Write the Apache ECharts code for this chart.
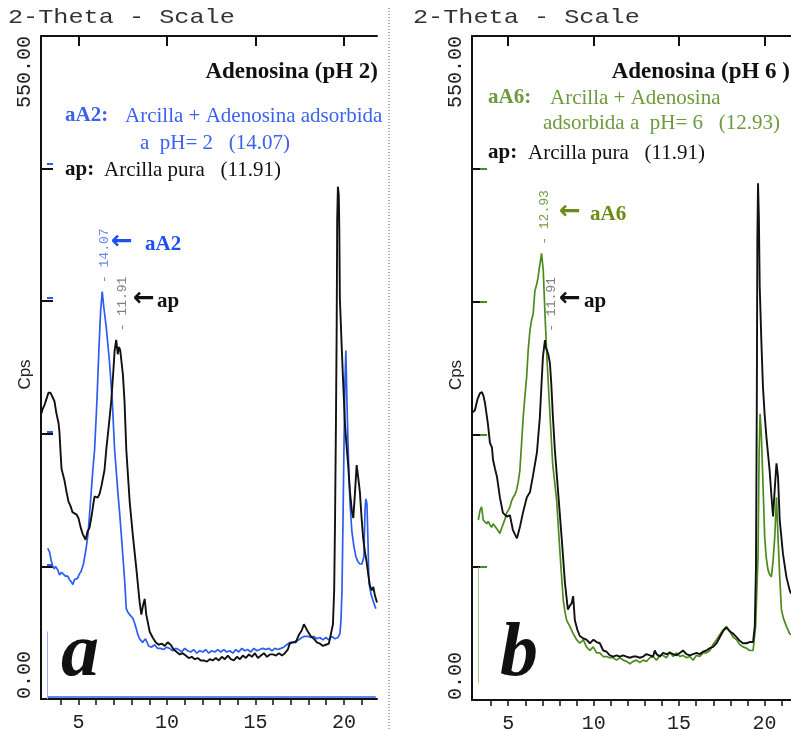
<!DOCTYPE html>
<html>
<head>
<meta charset="utf-8">
<script src="https://cdn.jsdelivr.net/npm/echarts@6/dist/echarts.min.js"></script>
<style>
  html, body { margin: 0; padding: 0; background: #fff; }
  #chart { width: 791px; height: 729px; }
</style>
</head>
<body>
<div id="chart"></div>
<script>
// ---- axis ticks ----
const twoThetaLabels = [5, 10, 15, 20];
const twoThetaTicks = [4, 5, 6, 7, 8, 9, 10, 11, 12, 13, 14, 15, 16, 17, 18, 19, 20, 21];
const cpsTicks = [110, 220, 330, 440];
const cpsEnds = [0, 550];

// ---- panel a: Adenosina pH 2 ----  [2θ, Cps]
const apA = [[2.91,237],[2.96,240],[3.08,244],[3.19,249],[3.30,254],[3.36,255],[3.42,254],[3.53,253],[3.64,247],[3.75,237],[3.87,229],[3.92,222],[3.98,206],[4.04,191],[4.09,188],[4.21,181],[4.32,172],[4.43,164],[4.55,160],[4.66,155],[4.77,156],[4.89,153],[5.00,150],[5.11,143],[5.23,137],[5.34,134],[5.40,132],[5.51,139],[5.62,142],[5.74,152],[5.85,163],[5.91,168],[6.08,167],[6.19,170],[6.30,177],[6.47,190],[6.57,207],[6.70,225],[6.85,247],[6.96,270],[7.04,289],[7.13,298],[7.22,286],[7.29,292],[7.36,289],[7.51,269],[7.60,247],[7.70,207],[7.89,164],[8.07,136],[8.27,108],[8.45,81],[8.55,70],[8.65,78],[8.74,83],[8.83,70],[9.02,56],[9.19,51],[9.36,47],[9.53,45],[9.70,46],[9.87,44],[10.04,47],[10.21,45],[10.38,41],[10.55,39],[10.72,37],[10.89,38],[11.06,36],[11.23,34],[11.40,35],[11.57,33],[11.74,34],[11.91,32],[12.08,32],[12.25,31],[12.42,33],[12.59,32],[12.76,34],[12.93,32],[13.10,35],[13.27,33],[13.44,36],[13.61,33],[13.78,32],[13.95,35],[14.12,33],[14.29,36],[14.46,34],[14.63,37],[14.80,35],[14.97,38],[15.14,34],[15.31,36],[15.48,38],[15.65,35],[15.82,37],[15.99,37],[16.16,36],[16.33,38],[16.50,36],[16.66,38],[16.83,41],[16.94,46],[17.11,47],[17.28,47],[17.45,53],[17.62,57],[17.74,62],[17.85,59],[17.96,56],[18.13,52],[18.30,50],[18.47,47],[18.64,46],[18.81,44],[18.98,45],[19.15,46],[19.26,47],[19.38,62],[19.45,90],[19.50,150],[19.55,230],[19.59,305],[19.62,397],[19.66,425],[19.71,418],[19.74,390],[19.77,333],[19.87,294],[19.96,262],[20.06,228],[20.15,210],[20.24,194],[20.34,172],[20.45,156],[20.53,150],[20.62,170],[20.72,194],[20.79,186],[20.90,172],[21.00,150],[21.09,133],[21.19,122],[21.28,114],[21.38,103],[21.47,94],[21.58,90],[21.66,93],[21.75,86],[21.87,80]];

const aA2 = [[3.26,125],[3.36,122],[3.47,114],[3.55,110],[3.63,108],[3.70,110],[3.83,107],[3.92,103],[4.04,105],[4.11,106],[4.26,102],[4.39,102],[4.49,99],[4.60,97],[4.68,95],[4.77,99],[4.87,100],[4.94,100],[5.06,104],[5.15,106],[5.28,112],[5.34,117],[5.44,126],[5.53,136],[5.62,152],[5.72,172],[5.81,190],[5.91,207],[6.04,247],[6.15,289],[6.25,322],[6.34,338],[6.43,325],[6.57,308],[6.75,280],[6.91,247],[7.04,207],[7.13,190],[7.22,172],[7.32,155],[7.42,136],[7.51,118],[7.60,100],[7.70,75],[7.79,72],[7.89,70],[8.07,67],[8.17,63],[8.27,58],[8.34,54],[8.45,50],[8.62,47],[8.79,50],[8.96,44],[9.13,43],[9.30,45],[9.47,42],[9.64,42],[9.81,41],[9.98,43],[10.15,42],[10.32,40],[10.49,42],[10.66,41],[10.83,39],[11.00,42],[11.17,40],[11.34,39],[11.51,41],[11.68,38],[11.85,40],[12.02,39],[12.19,41],[12.36,38],[12.53,40],[12.70,39],[12.87,41],[13.04,39],[13.21,41],[13.38,39],[13.55,40],[13.72,38],[13.89,41],[14.06,39],[14.23,42],[14.40,40],[14.57,41],[14.74,39],[14.91,42],[15.08,40],[15.25,41],[15.42,42],[15.59,41],[15.76,42],[15.93,40],[16.10,42],[16.27,41],[16.44,42],[16.60,43],[16.77,45],[16.94,47],[17.11,47],[17.28,48],[17.45,49],[17.62,51],[17.79,52],[17.96,52],[18.13,51],[18.30,52],[18.47,50],[18.64,51],[18.81,49],[18.98,51],[19.15,49],[19.32,52],[19.49,50],[19.66,51],[19.77,54],[19.83,64],[19.89,89],[19.94,139],[20.00,206],[20.06,264],[20.11,289],[20.17,247],[20.23,214],[20.28,189],[20.34,164],[20.45,139],[20.57,126],[20.68,118],[20.79,114],[20.90,112],[21.02,112],[21.13,118],[21.19,156],[21.24,166],[21.30,162],[21.36,131],[21.41,97],[21.53,87],[21.64,82],[21.75,77],[21.81,75]];

// ---- panel b: Adenosina pH 6 ----
const apB = [[2.88,238],[3.05,240],[3.20,249],[3.34,254],[3.46,255],[3.55,252],[3.64,246],[3.81,229],[3.93,213],[4.05,209],[4.11,199],[4.22,192],[4.34,185],[4.51,168],[4.69,155],[4.80,154],[4.92,152],[5.10,153],[5.27,141],[5.40,137],[5.51,134],[5.68,143],[5.86,155],[6.09,168],[6.27,172],[6.44,185],[6.68,205],[6.85,234],[6.95,262],[7.03,284],[7.15,298],[7.20,292],[7.26,290],[7.35,286],[7.44,279],[7.52,262],[7.61,236],[7.73,207],[7.91,174],[8.14,132],[8.32,97],[8.49,75],[8.60,78],[8.71,80],[8.80,86],[8.90,66],[9.05,58],[9.19,53],[9.40,51],[9.58,50],[9.78,47],[9.99,50],[10.17,48],[10.36,47],[10.56,41],[10.75,40],[10.95,37],[11.14,36],[11.34,37],[11.53,36],[11.73,37],[11.92,36],[12.12,35],[12.31,36],[12.51,36],[12.70,35],[12.90,36],[13.09,38],[13.29,37],[13.48,36],[13.58,41],[13.68,38],[13.87,36],[14.06,39],[14.26,38],[14.46,39],[14.65,38],[14.85,37],[15.04,39],[15.23,41],[15.43,38],[15.63,37],[15.82,38],[16.02,39],[16.21,38],[16.40,40],[16.60,41],[16.80,43],[16.99,44],[17.19,47],[17.38,52],[17.57,57],[17.77,60],[17.96,57],[18.16,55],[18.36,52],[18.55,49],[18.74,47],[18.94,47],[19.13,48],[19.33,48],[19.43,61],[19.50,110],[19.55,250],[19.58,380],[19.62,428],[19.67,400],[19.72,342],[19.82,295],[19.91,259],[20.01,236],[20.11,218],[20.30,190],[20.40,170],[20.50,152],[20.60,175],[20.70,196],[20.79,185],[20.89,149],[21.08,121],[21.28,102],[21.47,91],[21.55,88]];

const aA6 = [[3.25,149],[3.35,157],[3.44,160],[3.54,149],[3.64,150],[3.74,146],[3.83,148],[3.93,145],[4.03,143],[4.12,146],[4.22,144],[4.32,142],[4.42,140],[4.51,138],[4.61,142],[4.71,146],[4.81,150],[4.91,155],[5.00,157],[5.10,160],[5.20,165],[5.29,168],[5.39,170],[5.49,174],[5.58,180],[5.68,190],[5.78,212],[5.88,235],[5.98,252],[6.08,268],[6.17,290],[6.27,306],[6.37,315],[6.46,320],[6.56,339],[6.66,344],[6.75,350],[6.82,358],[6.89,364],[6.95,370],[7.00,363],[7.05,356],[7.10,338],[7.15,320],[7.28,279],[7.44,237],[7.60,196],[7.72,180],[7.83,166],[8.02,124],[8.12,103],[8.22,83],[8.32,73],[8.42,66],[8.61,61],[8.80,55],[9.00,50],[9.19,47],[9.39,50],[9.58,44],[9.78,41],[9.97,44],[10.17,39],[10.36,39],[10.56,36],[10.75,36],[10.95,35],[11.14,35],[11.34,33],[11.53,35],[11.73,33],[11.92,32],[12.12,30],[12.31,32],[12.51,33],[12.70,31],[12.90,33],[13.09,32],[13.29,35],[13.48,36],[13.68,33],[13.87,37],[14.06,37],[14.26,35],[14.46,40],[14.65,36],[14.85,39],[15.04,36],[15.23,37],[15.43,35],[15.63,36],[15.82,33],[16.02,37],[16.21,36],[16.40,39],[16.60,39],[16.80,41],[16.99,46],[17.19,50],[17.38,54],[17.57,58],[17.77,61],[17.96,57],[18.16,52],[18.36,50],[18.55,46],[18.74,44],[18.94,43],[19.13,41],[19.33,41],[19.48,61],[19.62,119],[19.68,200],[19.74,237],[19.78,228],[19.82,218],[19.92,175],[20.01,135],[20.10,118],[20.20,108],[20.30,104],[20.40,102],[20.50,115],[20.60,135],[20.70,168],[20.79,135],[20.89,102],[20.99,75],[21.10,68],[21.28,61],[21.47,55],[21.55,54]];

// d-spacing labels (Å) placed on the first basal peak: [2θ, Cps, label]
const peakA_aA2 = [6.34, 338, '14.07'];
const peakA_ap  = [7.13, 298, '11.91'];
const peakB_aA6 = [6.95, 370, '12.93'];
const peakB_ap  = [7.15, 298, '11.91'];

// ---- styling ----
const MONO = '"Liberation Mono", "DejaVu Sans Mono", monospace';
const SERIF = '"Liberation Serif", "DejaVu Serif", serif';
const SANS = '"Liberation Sans", "DejaVu Sans", sans-serif';
const ARROW = '"DejaVu Sans", sans-serif';
const INK = '#111111';
const BLUE = '#2d5cf0';
const BLUE_TXT = '#3b62ee';
const GREEN = '#4d8a1c';
const GREEN_TXT = '#6c9a3c';
const OLIVE = '#6b8c12';

const chart = echarts.init(document.getElementById('chart'), null, { renderer: 'canvas' });

function bottomAxis(gridIndex, min, max) {
  return {
    type: 'value', gridIndex, position: 'bottom', min, max,
    axisLine: { show: true, onZero: false, lineStyle: { color: INK, width: 2 } },
    axisTick: { show: true, customValues: twoThetaTicks, length: 6, lineStyle: { color: INK, width: 1.5 } },
    axisLabel: { show: true, customValues: twoThetaLabels, margin: 14, fontFamily: MONO, fontSize: 20, color: '#222' },
    splitLine: { show: false }
  };
}
function topAxis(gridIndex, min, max) {
  return {
    type: 'value', gridIndex, position: 'top', min, max,
    axisLine: { show: true, onZero: false, lineStyle: { color: INK, width: 2 } },
    axisTick: { show: true, inside: true, customValues: twoThetaLabels, length: 10, lineStyle: { color: INK, width: 2 } },
    axisLabel: { show: false },
    splitLine: { show: false }
  };
}
function cpsAxis(gridIndex, withName) {
  return {
    type: 'value', gridIndex, position: 'left', min: cpsEnds[0], max: cpsEnds[1],
    axisLine: { show: true, onZero: false, lineStyle: { color: INK, width: 2 } },
    axisTick: { show: true, inside: true, customValues: cpsTicks, length: withName ? 12 : 8, lineStyle: { color: INK, width: 2 } },
    axisLabel: {
      show: true, customValues: [cpsEnds[1]], rotate: 90, align: 'right', verticalAlign: 'middle',
      margin: 16, fontFamily: MONO, fontSize: 20, color: '#222',
      formatter: v => v.toFixed(2)
    },
    splitLine: { show: false },
    name: 'Cps', nameLocation: 'middle', nameGap: 7, nameRotate: 90, nameMoveOverlap: false,
    nameTextStyle: { fontFamily: SANS, fontSize: 17, color: '#222', padding: [0, 14, 0, 0] }
  };
}
function zeroLabelAxis(gridIndex) {
  return {
    type: 'value', gridIndex, position: 'left', min: cpsEnds[0], max: cpsEnds[1],
    axisLine: { show: false }, axisTick: { show: false }, splitLine: { show: false },
    axisLabel: {
      show: true, customValues: [cpsEnds[0]], rotate: 90, align: 'left', verticalAlign: 'middle',
      margin: 16, fontFamily: MONO, fontSize: 20, color: '#222',
      formatter: v => v.toFixed(2)
    }
  };
}
function colorTickAxis(gridIndex, color, max, offset, len) {
  return {
    type: 'value', gridIndex, position: 'left', min: 0, max, offset,
    axisLine: { show: false }, splitLine: { show: false }, axisLabel: { show: false },
    axisTick: { show: true, inside: true, customValues: cpsTicks, length: len, lineStyle: { color, width: 2 } }
  };
}
// vertical d-spacing tag above a peak; the label frame is rotated, so its
// second offset component shifts it sideways on screen
function peakLabel(peak, color, shift) {
  return {
    silent: true, symbol: 'circle', symbolSize: 1,
    itemStyle: { color: 'rgba(0,0,0,0)' },
    label: {
      show: true, position: 'top', distance: 8, rotate: 90, align: 'left', verticalAlign: 'middle',
      offset: [0, shift],
      formatter: '- {b}', fontFamily: MONO, fontSize: 13, color
    },
    data: [{ coord: [peak[0], peak[1]], name: peak[2] }]
  };
}
function txt(x, y, text, font, fill, align) {
  return {
    type: 'text', x, y, silent: true,
    style: { text, font, fill, align: align || 'left', verticalAlign: 'middle', textAlign: align || 'left', textVerticalAlign: 'middle' }
  };
}

const option = {
  animation: false,
  backgroundColor: '#fff',
  grid: [
    { left: 41, top: 36, width: 336, height: 663, outerBoundsMode: 'none', containLabel: false },
    { left: 472, top: 36, width: 319, height: 664, outerBoundsMode: 'none', containLabel: false }
  ],
  xAxis: [
    bottomAxis(0, 2.88, 21.87), topAxis(0, 2.88, 21.87),
    bottomAxis(1, 2.88, 21.55), topAxis(1, 2.88, 21.55)
  ],
  yAxis: [
    colorTickAxis(0, BLUE, 545, -6, 6), cpsAxis(0, true), zeroLabelAxis(0),
    colorTickAxis(1, GREEN, 550, 0, 15), cpsAxis(1, false), zeroLabelAxis(1)
  ],
  series: [
    {
      type: 'line', name: 'aA2', data: aA2, xAxisIndex: 0, yAxisIndex: 1,
      symbol: 'none', lineStyle: { color: BLUE, width: 1.7 }, z: 2,
      markPoint: peakLabel(peakA_aA2, '#6a87f0', 2),
      markLine: {
        silent: true, symbol: 'none', label: { show: false },
        lineStyle: { color: BLUE, width: 1.5, type: 'solid' },
        data: [
          [{ coord: [3.25, 1.5] }, { coord: [21.8, 1.5] }],
          [{ coord: [3.25, 0] }, { coord: [3.25, 56], lineStyle: { width: 1, color: '#9fb4f6' } }]
        ]
      }
    },
    {
      type: 'line', name: 'ap', data: apA, xAxisIndex: 0, yAxisIndex: 1,
      symbol: 'none', lineStyle: { color: INK, width: 1.9 }, z: 3,
      markPoint: peakLabel(peakA_ap, '#808080', 6)
    },
    {
      type: 'line', name: 'aA6', data: aA6, xAxisIndex: 2, yAxisIndex: 4,
      symbol: 'none', lineStyle: { color: GREEN, width: 1.7 }, z: 2,
      markPoint: peakLabel(peakB_aA6, '#74a048', 3),
      markLine: {
        silent: true, symbol: 'none', label: { show: false },
        lineStyle: { color: '#a9c98e', width: 1, type: 'solid' },
        data: [[{ coord: [3.23, 14] }, { coord: [3.23, 110] }]]
      }
    },
    {
      type: 'line', name: 'ap', data: apB, xAxisIndex: 2, yAxisIndex: 4,
      symbol: 'none', lineStyle: { color: INK, width: 1.9 }, z: 3,
      markPoint: peakLabel(peakB_ap, '#808080', 7)
    }
  ],
  graphic: [
    // panel separator
    { type: 'line', silent: true, shape: { x1: 389, y1: 8, x2: 389, y2: 729 },
      style: { stroke: '#555', lineWidth: 1, lineDash: [1, 2] } },
    // scan headers, stretched to the wide plotter lettering
    Object.assign(txt(8, 17, '2-Theta - Scale', '21px ' + MONO, '#333'), { scaleX: 1.2 }),
    Object.assign(txt(413, 17, '2-Theta - Scale', '21px ' + MONO, '#333'), { scaleX: 1.2 }),

    // panel a annotations
    txt(378, 72, 'Adenosina (pH 2)', 'bold 23px ' + SERIF, INK, 'right'),
    txt(65, 116, 'aA2:', 'bold 21px ' + SERIF, BLUE_TXT),
    txt(125, 116, 'Arcilla + Adenosina adsorbida', '21px ' + SERIF, BLUE_TXT),
    txt(140, 143, 'a  pH= 2   (14.07)', '21px ' + SERIF, BLUE_TXT),
    txt(65, 170, 'ap:', 'bold 21px ' + SERIF, INK),
    txt(104, 170, 'Arcilla pura   (11.91)', '21px ' + SERIF, INK),
    txt(111, 242, '\u2190', 'bold 26px ' + ARROW, '#1f4ff2'),
    txt(145, 245, 'aA2', 'bold 21px ' + SERIF, '#1f4ff2'),
    txt(133, 299, '\u2190', 'bold 26px ' + ARROW, INK),
    txt(157, 302, 'ap', 'bold 21px ' + SERIF, INK),
    txt(61, 655, 'a', 'italic bold 76px ' + SERIF, INK),

    // panel b annotations
    txt(790, 72, 'Adenosina (pH 6 )', 'bold 23px ' + SERIF, INK, 'right'),
    txt(488, 98, 'aA6:', 'bold 21px ' + SERIF, GREEN_TXT),
    txt(550, 98, 'Arcilla + Adenosina', '21px ' + SERIF, GREEN_TXT),
    txt(543, 123, 'adsorbida a  pH= 6   (12.93)', '21px ' + SERIF, GREEN_TXT),
    txt(488, 153, 'ap:', 'bold 21px ' + SERIF, INK),
    txt(528, 153, 'Arcilla pura   (11.91)', '21px ' + SERIF, INK),
    txt(559, 212, '\u2190', 'bold 26px ' + ARROW, OLIVE),
    txt(590, 215, 'aA6', 'bold 21px ' + SERIF, OLIVE),
    txt(559, 299, '\u2190', 'bold 26px ' + ARROW, INK),
    txt(584, 302, 'ap', 'bold 21px ' + SERIF, INK),
    txt(500, 655, 'b', 'italic bold 76px ' + SERIF, INK)
  ]
};

chart.setOption(option);
</script>
</body>
</html>
